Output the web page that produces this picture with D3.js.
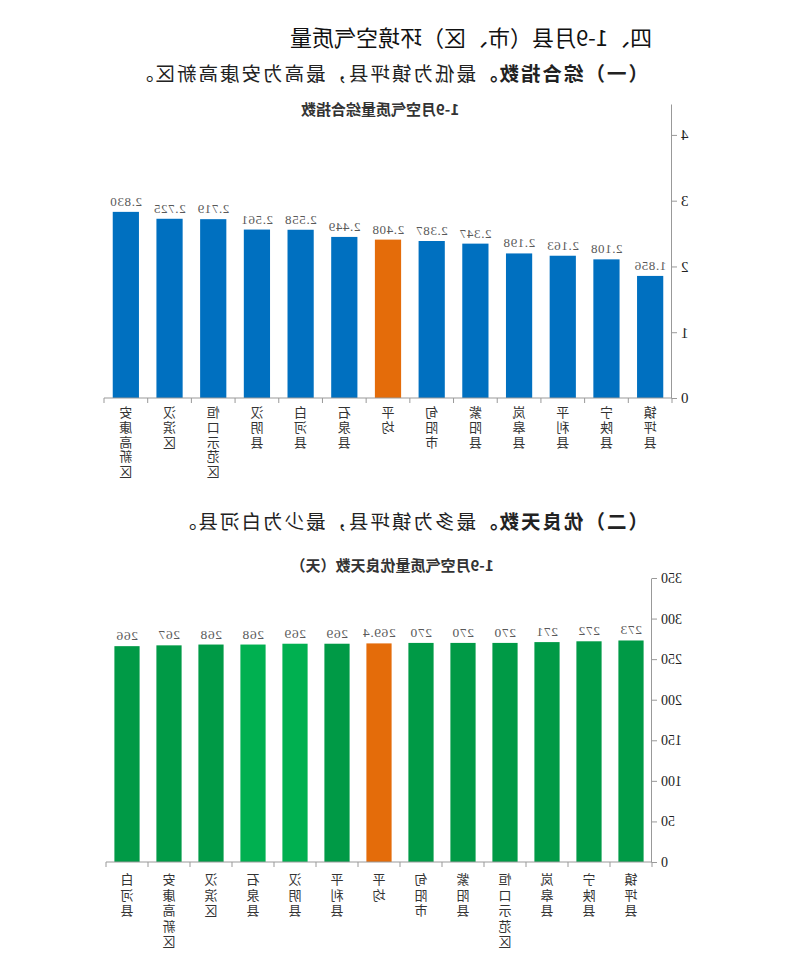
<!DOCTYPE html>
<html>
<head>
<meta charset="utf-8">
<script src="https://cdn.jsdelivr.net/npm/d3@7"></script>
<style>
  body { margin: 0; background: #fff; }
  svg { display: block; }
</style>
</head>
<body>
<div id="chart"></div>
<script>
// 综合指数
const indexCats = ["镇坪县", "宁陕县", "平利县", "岚皋县", "紫阳县", "旬阳市", "平均",
                   "石泉县", "白河县", "汉阴县", "恒口示范区", "汉滨区", "安康高新区"];
const indexValues = [1.856, 2.108, 2.163, 2.198, 2.347, 2.387, 2.408,
                     2.449, 2.558, 2.561, 2.719, 2.725, 2.830];
const indexTicks = [0, 1, 2, 3, 4];

// 优良天数
const dayCats = ["镇坪县", "宁陕县", "岚皋县", "恒口示范区", "紫阳县", "旬阳市", "平均",
                 "平利县", "汉阴县", "石泉县", "汉滨区", "安康高新区", "白河县"];
const dayValues = [273, 272, 271, 270, 270, 270, 269.4, 269, 269, 268, 268, 267, 266];
const dayTicks = [0, 50, 100, 150, 200, 250, 300, 350];

const W = 800, H = 957;
const cjk = "'Noto Sans CJK SC', sans-serif";
const num = "'Liberation Serif', 'DejaVu Serif', serif";

const svg = d3.select("#chart").append("svg").attr("width", W).attr("height", H);
// 参考图是水平镜像的，整体翻转
const root = svg.append("g").attr("transform", `translate(${W},0) scale(-1,1)`);

// 标题文字
root.append("text").attr("x", 148).attr("y", 46)
    .attr("font-family", cjk).attr("font-size", 22).attr("fill", "#111")
    .text("四、1-9月县（市、区）环境空气质量");

function heading(y, boldPart, rest) {
  const t = root.append("text").attr("x", 152).attr("y", y)
      .attr("font-family", cjk).attr("font-size", 19.5).attr("letter-spacing", 2)
      .attr("fill", "#222");
  t.append("tspan").attr("font-weight", "bold").text(boldPart);
  t.append("tspan").text(rest);
}
heading(81, "（一）综合指数。", "最低为镇坪县，最高为安康高新区。");
heading(529, "（二）优良天数。", "最多为镇坪县，最少为白河县。");

function drawBars(o) {
  const g = root.append("g");
  const x = d3.scaleBand().domain(o.cats).range([o.x0, o.x1]).paddingInner(0.4).paddingOuter(0.2);
  const y = d3.scaleLinear().domain([0, o.yMax]).range([o.y0, o.yTop]);

  g.append("text").attr("x", o.titleX).attr("y", o.titleY).attr("text-anchor", "middle")
      .attr("font-family", cjk).attr("font-size", 15).attr("font-weight", "bold").attr("fill", "#333")
      .text(o.title);

  g.selectAll("rect.bar").data(o.values).join("rect")
      .attr("class", "bar")
      .attr("x", (d, i) => x(o.cats[i]))
      .attr("y", d => y(d))
      .attr("width", x.bandwidth())
      .attr("height", d => y(0) - y(d))
      .attr("fill", (d, i) => o.color(o.cats[i]));

  g.selectAll("text.val").data(o.values).join("text")
      .attr("class", "val")
      .attr("x", (d, i) => x(o.cats[i]) + x.bandwidth() / 2)
      .attr("y", d => y(d) - 6)
      .attr("text-anchor", "middle")
      .attr("font-family", num).attr("font-size", o.valSize).attr("letter-spacing", 0.6)
      .attr("fill", "#595959")
      .text(d => o.fmt(d));

  // y 轴
  const ya = g.append("g").attr("transform", `translate(${o.x0},0)`)
      .call(d3.axisLeft(y).tickValues(o.ticks).tickFormat(d3.format("d"))
        .tickSize(5).tickSizeOuter(0).tickPadding(4));
  ya.select(".domain").attr("stroke", "#999");
  ya.selectAll(".tick line").attr("stroke", "#999");
  ya.selectAll(".tick text").attr("font-family", num).attr("font-size", o.tickSize).attr("fill", "#222");

  // x 轴
  g.append("line").attr("x1", o.x0).attr("x2", o.x1).attr("y1", y(0)).attr("y2", y(0))
      .attr("stroke", "#999");
  const step = x.step();
  g.selectAll("line.xt").data(d3.range(o.cats.length + 1)).join("line")
      .attr("class", "xt")
      .attr("x1", i => o.x0 + i * step).attr("x2", i => o.x0 + i * step)
      .attr("y1", y(0)).attr("y2", y(0) + 5)
      .attr("stroke", "#999");

  // 竖排类别名，逐字排列
  const lab = g.selectAll("g.cat").data(o.cats).join("g")
      .attr("class", "cat")
      .attr("transform", d => `translate(${x(d) + x.bandwidth() / 2},${y(0) + o.catStart})`);
  lab.selectAll("text").data(d => Array.from(d)).join("text")
      .attr("y", (c, j) => j * o.catStep)
      .attr("text-anchor", "middle")
      .attr("font-family", cjk).attr("font-size", 13).attr("fill", "#333")
      .text(c => c);
}

drawBars({
  cats: indexCats, values: indexValues, ticks: indexTicks,
  x0: 128, x1: 696, y0: 398, yTop: 104, yMax: 4.47,
  fmt: d3.format(".3f"), valSize: 13, tickSize: 15,
  color: c => c === "平均" ? "#E46C0A" : "#0070C0",
  catStart: 19, catStep: 14.8,
  title: "1-9月空气质量综合指数", titleX: 420, titleY: 115
});

const lightGreen = new Set(["汉阴县", "石泉县"]);
drawBars({
  cats: dayCats, values: dayValues, ticks: dayTicks,
  x0: 148, x1: 694, y0: 862, yTop: 578, yMax: 350,
  fmt: d => String(d), valSize: 13.5, tickSize: 14,
  color: c => c === "平均" ? "#E46C0A" : (lightGreen.has(c) ? "#00B050" : "#009A46"),
  catStart: 22, catStep: 15.5,
  title: "1-9月空气质量优良天数（天）", titleX: 408, titleY: 571
});
</script>
</body>
</html>
